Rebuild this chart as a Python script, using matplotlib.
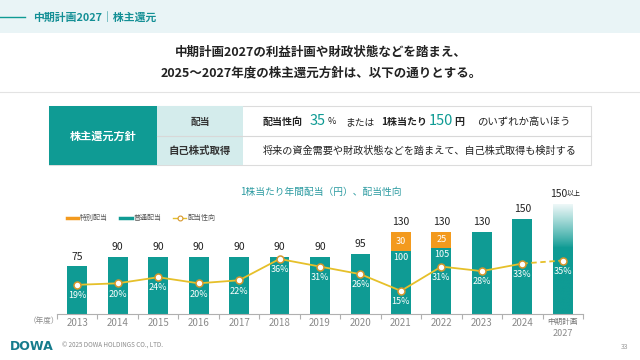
import matplotlib
matplotlib.use('Agg')
import matplotlib.pyplot as plt
import numpy as np
from matplotlib.patches import Rectangle
from matplotlib.lines import Line2D

plt.rcParams['font.family'] = ['Noto Sans CJK JP', 'DejaVu Sans']

# ---------------- data ----------------
years = ['2013', '2014', '2015', '2016', '2017', '2018', '2019', '2020',
         '2021', '2022', '2023', '2024', '中期計画\n2027']
ordinary = [75, 90, 90, 90, 90, 90, 90, 95, 100, 105, 130, 150, 150]
special = [0, 0, 0, 0, 0, 0, 0, 0, 30, 25, 0, 0, 0]
payout = [19, 20, 24, 20, 22, 36, 31, 26, 15, 31, 28, 33, 35]
total_labels = ['75', '90', '90', '90', '90', '90', '90', '95',
                '130', '130', '130', '150', '150']

TEAL = '#0f9b94'
ORANGE = '#f39a1e'
YELLOW = '#e6c02a'
MEDGE = '#d6962c'
DARK = '#222222'
GRAY = '#8a8a8a'

W, H = 640, 360
fig = plt.figure(figsize=(6.4, 3.6), dpi=100)
fig.patch.set_facecolor('white')
renderer = fig.canvas.get_renderer()


def fx(x):
    return x / W


def fy(y):
    return 1 - y / H


def rect(x0, y0, x1, y1, **kw):
    fig.add_artist(Rectangle((fx(x0), fy(y1)), fx(x1) - fx(x0), fy(y0) - fy(y1),
                             transform=fig.transFigure, **kw))


def hline(x0, x1, y, **kw):
    fig.add_artist(Line2D([fx(x0), fx(x1)], [fy(y), fy(y)], transform=fig.transFigure, **kw))


def txt(x, y, s, **kw):
    return fig.text(fx(x), fy(y), s, **kw)


# ---------------- header ----------------
rect(0, 0, 640, 33, color='#e9f4f6', lw=0)
hline(0, 25, 17, color=TEAL, lw=1)
txt(33, 17, '中期計画2027｜株主還元', color='#138f95', fontsize=7.8, weight='bold', va='center')

txt(321, 52, '中期計画2027の利益計画や財政状態などを踏まえ、', fontsize=9, weight='bold',
    color=DARK, ha='center', va='center')
txt(321, 73, '2025～2027年度の株主還元方針は、以下の通りとする。', fontsize=9, weight='bold',
    color=DARK, ha='center', va='center')
hline(0, 640, 92, color='#e3e3e3', lw=0.8)

# ---------------- table ----------------
rect(49, 106, 591, 165, facecolor='white', edgecolor='#dcdcdc', lw=0.8)
rect(49, 106, 157, 165, color=TEAL, lw=0)
rect(157, 106, 243, 165, color='#d4ecec', lw=0)
hline(157, 591, 136, color='#d8d8d8', lw=0.8)
txt(103, 136, '株主還元方針', color='white', fontsize=8, weight='bold', ha='center', va='center')
txt(200, 121.5, '配当', color='#333333', fontsize=7, weight='bold', ha='center', va='center')
txt(200, 151, '自己株式取得', color='#333333', fontsize=7.5, weight='bold', ha='center', va='center')

# row 1: sequential layout of mixed-size pieces
ry = 122
pieces = [
    ('配当性向', 7.2, 'bold', DARK, 5),
    ('35', 10.5, 'normal', TEAL, 1),
    ('%', 6.5, 'normal', DARK, 7),
    ('または', 7.0, 'normal', DARK, 5),
    ('1株当たり', 7.2, 'bold', DARK, 1),
    ('150', 10.5, 'normal', TEAL, 1),
    ('円', 7.2, 'bold', DARK, 9),
    ('のいずれか高いほう', 7.5, 'normal', DARK, 0),
]
arts = []
widths = []
for s, fs, wt, col, gap in pieces:
    dy = -1 if fs > 9 else 0
    a = txt(0, ry + dy, s, fontsize=fs, weight=wt, color=col, va='center', ha='left')
    arts.append(a)
    widths.append(a.get_window_extent(renderer).width)
gaps = [p[4] for p in pieces]
x0, x1 = 263, 570
slack = (x1 - x0) - sum(widths) - sum(gaps)
gsum = sum(gaps)
cur = x0
for a, w_, g in zip(arts, widths, gaps):
    a.set_x(fx(cur))
    cur += w_ + g + (slack * g / gsum if slack > 0 else 0)

txt(263, 151, '将来の資金需要や財政状態などを踏まえて、自己株式取得も検討する', color=DARK,
    fontsize=7.3, va='center')

# ---------------- chart title & legend ----------------
txt(321, 192, '1株当たり年間配当（円）、配当性向', color='#2a9aa0', fontsize=7, ha='center', va='center')
hline(67, 78, 218, color=ORANGE, lw=2.5)
txt(80, 218, '特別配当', color='#555555', fontsize=5, va='center')
hline(120, 132, 218, color=TEAL, lw=2.5)
txt(134, 218, '普通配当', color='#555555', fontsize=5, va='center')
hline(173, 186, 218, color=YELLOW, lw=1)
fig.add_artist(Line2D([fx(179.5)], [fy(218)], transform=fig.transFigure, marker='o', ms=3.5,
                      mfc='white', mec=MEDGE, mew=0.8, ls='none'))
txt(188, 218, '配当性向', color='#555555', fontsize=5, va='center')

# ---------------- axes ----------------
base_px = 313.7
top_px = 190
ax = fig.add_axes([fx(57), fy(base_px), fx(583) - fx(57), (base_px - top_px) / H])
ymax = (base_px - top_px) / 0.63
rmax = (base_px - top_px) / 1.52
x = np.arange(len(years))
bw = 0.49

n = len(years)
ax.bar(x[:-1], ordinary[:-1], width=bw, color=TEAL, lw=0)
sp_idx = [i for i in range(n) if special[i] > 0]
ax.bar(x[sp_idx], [special[i] for i in sp_idx], bottom=[ordinary[i] for i in sp_idx],
       width=bw, color=ORANGE, lw=0)

# gradient "150以上" bar
fade_extra = 24
top_val = ordinary[-1] + fade_extra
ph = ax.bar(x[-1], top_val, width=bw, color='none', lw=0)[0]
hh = np.linspace(0, top_val, 200)
t = np.clip((hh - 105) / (top_val - 105), 0, 1) ** 0.9
c0 = np.array(matplotlib.colors.to_rgb(TEAL))
c1 = np.array(matplotlib.colors.to_rgb('#eef8f8'))
grad = (c0[None, :] * (1 - t[:, None]) + c1[None, :] * t[:, None])[:, None, :]
im = ax.imshow(grad, extent=[x[-1] - bw / 2, x[-1] + bw / 2, 0, top_val], origin='lower',
               aspect='auto', zorder=2)
im.set_clip_path(ph)

# value labels
for i in range(n - 1):
    tot = ordinary[i] + special[i]
    ax.annotate(total_labels[i], (x[i], tot), xytext=(0, 3.5), textcoords='offset points',
                ha='center', va='bottom', fontsize=7.5, color=DARK)
ax.annotate(total_labels[-1], (x[-1], top_val), xytext=(3, 4), textcoords='offset points',
            ha='right', va='bottom', fontsize=7.5, color=DARK)
ax.annotate('以上', (x[-1], top_val), xytext=(3, 4.5), textcoords='offset points',
            ha='left', va='bottom', fontsize=5, color=DARK)
for i in sp_idx:
    ax.text(x[i], ordinary[i] + special[i] / 2, str(special[i]), ha='center', va='center',
            fontsize=6.5, color='white')
    ax.annotate(str(ordinary[i]), (x[i], ordinary[i]), xytext=(0, -2), textcoords='offset points',
                ha='center', va='top', fontsize=6.5, color='white')

ax.set_xlim(-0.49, 12.5)
ax.set_ylim(0, ymax)
for s in ['top', 'right', 'left']:
    ax.spines[s].set_visible(False)
ax.spines['bottom'].set_color('#b0b0b0')
ax.spines['bottom'].set_linewidth(0.8)
ax.set_yticks([])
ax.set_xticks(x)
first_lines = [y.split('\n')[0] for y in years]
ax.set_xticklabels(first_lines, fontsize=7, color=GRAY)
ax.get_xticklabels()[-1].set_fontsize(5.5)
ax.get_xticklabels()[-1].set_color('#777777')
for i, y in enumerate(years):
    parts = y.split('\n')
    if len(parts) > 1:
        ax.annotate(parts[1], (x[i], 0), xycoords=('data', 'axes fraction'), xytext=(0, -11),
                    textcoords='offset points', ha='center', va='top', fontsize=6.5, color=GRAY)
ax.set_xticks(np.arange(-0.5, 12.6, 1), minor=True)
ax.tick_params(axis='x', which='major', length=0, pad=3)
ax.tick_params(axis='x', which='minor', length=3.5, color='#b0b0b0', width=0.8)
ax.patch.set_alpha(0)

ax2 = ax.twinx()
ax2.set_ylim(0, rmax)
ax2.set_yticks([])
for s in ax2.spines.values():
    s.set_visible(False)
ax2.plot(x[:-1], payout[:-1], color=YELLOW, lw=1.3, zorder=3)
ax2.plot(x[-2:], payout[-2:], color=YELLOW, lw=1.3, ls=(0, (3, 2)), zorder=3)
ax2.plot(x, payout, ls='none', marker='o', ms=5, mfc='white', mec=MEDGE, mew=1.1, zorder=4)
for i in range(n):
    ax2.annotate(f'{payout[i]}%', (x[i], payout[i]), xytext=(0, -4.5), textcoords='offset points',
                 ha='center', va='top', fontsize=6.5, color='white', zorder=5)

txt(44, 321, '（年度）', color=GRAY, fontsize=5.5, ha='center', va='center')

# ---------------- footer ----------------
txt(10, 346, 'DOWA', color='#157b8c', fontsize=9, weight='heavy', va='center', family='DejaVu Sans')
txt(62, 346, '© 2025 DOWA HOLDINGS CO., LTD.', color='#8a8a8a', fontsize=4.5, va='center')
txt(625, 347, '33', color='#9a9a9a', fontsize=5, ha='center', va='center')

fig.savefig('out.png', dpi=100)
